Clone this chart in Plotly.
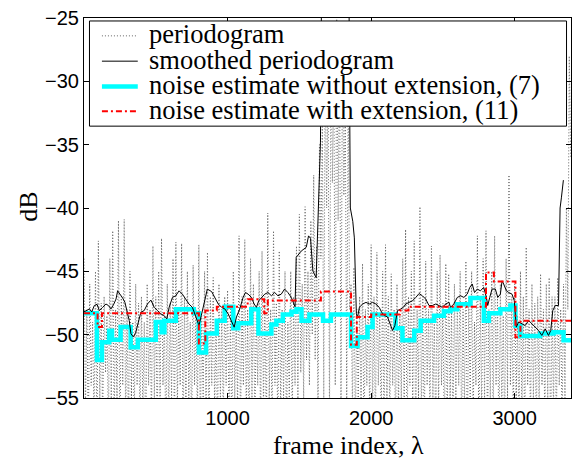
import plotly.graph_objects as go

# ---------------- data ----------------
# periodogram: local maxima at frames 0,20,40,... and minima at 10,30,50,...
pg_peaks = [
    -44.0, -48, -46, -49, -45, -42.6, -47.5, -47, -48.5, -44,
    -41.8, -48, -41.0, -47, -40.9, -48, -45, -49, -46, -47.5,
    -47, -49, -46, -48, -43.0, -47, -45, -42.4, -48.5, -46,
    -47.5, -44, -42.7, -48, -42.8, -47, -45, -49, -44.5, -48,
    -42.9, -48.5, -45, -43.5, -47, -45.5, -49, -46, -48, -47,
    -46.5, -48, -45, -49, -42.2, -47, -42.5, -48, -44, -46,
    -48.5, -45, -43.4, -47, -40.4, -48, -41.8, -47.5, -43.4, -48,
    -45, -49, -45, -47, -43, -40.5, -46, -39.9, -45, -41,
    -37.4, -43, -35, -33, -28, -30, -26, -29, -24, -27,
    -27, -32, -30, -46, -44.7, -48, -47, -44.4, -48, -46,
    -42.9, -47, -43.5, -48.5, -45, -42.9, -47, -45.2, -48, -46,
    -48.5, -44, -41.7, -47, -45, -42.6, -48, -39.9, -47, -44.2,
    -48, -43, -49, -45, -43.7, -47.5, -44.4, -45.2, -48, -46,
    -47.5, -45, -48, -44.2, -47, -45, -49, -42.2, -47, -44,
    -41.8, -48, -45, -42.2, -47, -46, -48.5, -44, -37.4, -47,
    -46, -48.5, -45, -47, -43.1, -48, -46, -47.5, -47, -45.2,
    -48, -46, -45.5, -47, -47, -45.5, -48, -46, -40, -28,
]
pg_valleys = [
    -56, -58, -54, -57, -59, -55, -57, -53, -58, -56,
    -57, -55, -59, -54, -57, -58, -55, -57, -54, -58,
    -56, -59, -54, -57, -55, -58, -56, -54, -59, -57,
    -55, -58, -56, -54, -59, -57, -55, -58, -54, -57,
    -58, -55, -57, -59, -54, -56, -58, -55, -57, -54,
    -57, -59, -55, -56, -58, -54, -57, -59, -55, -57,
    -54, -58, -56, -59, -55, -57, -54, -58, -56, -55,
    -58, -55, -57, -54, -56, -53, -55, -52, -54, -50,
    -52, -56, -44, -55, -40, -57, -38, -54, -41, -56,
    -39, -56, -48, -56, -58, -55, -57, -59, -54, -57,
    -56, -58, -54, -57, -59, -55, -57, -54, -58, -56,
    -55, -57, -59, -54, -56, -58, -55, -57, -59, -54,
    -57, -55, -58, -56, -54, -59, -57, -55, -58, -56,
    -54, -58, -56, -59, -55, -57, -54, -58, -56, -55,
    -58, -55, -57, -54, -59, -56, -58, -55, -54, -57,
    -55, -58, -56, -59, -54, -57, -55, -58, -56, -54,
    -57, -55, -59, -56, -58, -54, -57, -55, -48, -36,
]
pg_half_step = 10
pg_frames, pg_db = [], []
for i, (pk, vl) in enumerate(zip(pg_peaks, pg_valleys)):
    pg_frames += [2 * i * pg_half_step, (2 * i + 1) * pg_half_step]
    pg_db += [pk, vl]

sm_frames = [0, 38, 54, 72, 91, 107, 130, 153, 170, 188, 207, 223, 234, 253, 269, 285, 299, 315, 327, 345,
             361, 378, 396, 419, 442, 466, 489, 512, 535, 558, 577, 593, 616, 639, 662, 685, 708, 731, 755, 778,
             801, 817, 840, 859, 889, 912, 935, 958, 981, 1004, 1027, 1046, 1062, 1085, 1108, 1125, 1143, 1166,
             1185, 1201, 1217, 1236, 1259, 1282, 1305, 1328, 1351, 1374, 1397, 1420, 1444, 1462, 1470, 1478,
             1513, 1548, 1564, 1578, 1594, 1617, 1628, 1647, 1655, 1845, 1855, 1872, 1883, 1890, 1897, 1906,
             1918, 1941, 1964, 1987, 2010, 2033, 2056, 2073, 2091, 2114, 2130, 2149, 2165, 2184, 2207, 2225,
             2241, 2265, 2288, 2311, 2334, 2357, 2380, 2403, 2426, 2450, 2473, 2496, 2519, 2542, 2553, 2576,
             2600, 2623, 2646, 2669, 2687, 2704, 2720, 2739, 2761, 2784, 2803, 2812, 2826, 2842, 2865, 2882,
             2900, 2912, 2923, 2942, 2958, 2981, 2997, 3011, 3027, 3050, 3073, 3097, 3120, 3143, 3166, 3189,
             3212, 3235, 3251, 3265, 3282, 3305, 3316, 3325, 3339]
sm_db = [-48.2, -47.97, -48.2, -47.7, -47.6, -48.1, -47.84, -47.58, -47.7, -47.97, -47.6, -47.19, -46.54, -46.8,
         -47.1, -47.45, -48.1, -48.88, -49.93, -50.19, -49.8, -49.0, -48.23, -48.1, -47.58, -47.27, -47.84, -48.1,
         -48.36, -48.49, -48.75, -47.84, -47.06, -46.93, -46.54, -46.8, -47.19, -47.58, -47.84, -48.62, -49.28,
         -48.49, -47.32, -46.4, -46.6, -47.06, -47.58, -47.84, -47.97, -48.36, -49.0, -49.41, -48.6, -47.97,
         -47.06, -46.67, -46.8, -47.06, -47.58, -47.84, -47.32, -47.06, -46.8, -46.67, -46.93, -46.67, -46.93,
         -46.8, -46.4, -46.67, -47.06, -47.58, -47.8, -43.9, -43.4, -43.1, -42.2, -42.4, -44.97, -45.5, -42.1,
         -34.8, -22, -22, -40.0, -41.05, -42.36, -45.2, -48.36, -48.6, -47.84, -47.58, -47.45, -47.58, -47.45,
         -47.58, -47.84, -48.23, -48.49, -48.6, -49.1, -49.67, -49.28, -48.1, -47.97, -47.84, -47.58, -47.45,
         -47.32, -47.06, -46.75, -46.93, -47.19, -47.7, -47.7, -47.58, -47.7, -47.84, -47.58, -47.45, -47.84,
         -47.58, -47.06, -46.93, -47.06, -46.8, -46.27, -46.0, -46.67, -46.4, -46.54, -46.27, -47.06, -47.7,
         -47.06, -46.4, -46.4, -47.06, -46.8, -45.75, -46.0, -46.54, -46.67, -46.8, -47.32, -49.41, -49.0,
         -49.15, -49.28, -48.88, -49.15, -49.41, -49.67, -50.06, -49.54, -50.06, -49.67, -48.1, -47.7, -47.7,
         -40.0, -39.2, -37.8]

ne7_frames = [0, 90, 125, 175, 195, 255, 325, 375, 500, 540, 560, 640, 765, 800, 850, 925, 980, 1040, 1075,
              1165, 1215, 1305, 1340, 1385, 1445, 1480, 1515, 1570, 1665, 1720, 1860, 1905, 1975, 2010, 2170,
              2218, 2300, 2345, 2438, 2507, 2553, 2600, 2692, 2785, 2820, 2900, 2970, 3005, 3039, 3178, 3270,
              3340, 3392]
ne7_db = [-48.3, -52.0, -50.6, -49.7, -50.4, -49.4, -51.0, -50.4, -49.0, -49.8, -48.9, -48.0, -48.3, -51.4,
          -49.9, -48.9, -47.8, -49.5, -49.1, -48.0, -49.9, -49.2, -48.9, -48.4, -48.2, -48.0, -48.9, -48.4,
          -48.9, -48.4, -50.9, -50.2, -49.4, -48.4, -49.5, -50.45, -49.7, -48.9, -48.5, -48.15, -48.0, -47.6,
          -47.1, -48.9, -48.3, -48.0, -47.7, -49.3, -50.1, -49.9, -49.8, -50.45, -50.45]

ne11_frames = [0, 95, 125, 800, 845, 925, 1140, 1255, 1280, 1650, 1860, 1900, 2000, 2200, 2260, 2800, 2855,
               3005, 3040, 3392]
ne11_db = [-48.3, -49.4, -48.3, -50.7, -48.1, -47.8, -47.2, -48.3, -47.3, -46.6, -50.8, -48.6, -48.4, -48.1,
           -47.8, -45.1, -45.8, -50.2, -48.9, -48.9]

x_ticks = [1000, 2000, 3000]
y_ticks = [-55, -50, -45, -40, -35, -30, -25]
legend_labels = ["periodogram", "smoothed periodogram",
                 "noise estimate without extension, (7)", "noise estimate with extension, (11)"]
x_title = "frame index, λ"
y_title = "dB"

# ---------------- layout geometry ----------------
W, H = 579, 459
ML, MR, MT, MB = 83.5, 6.5, 15, 61
PW = W - ML - MR
PH = H - MT - MB
PB = H - MB


def fx(px):
    return (px - ML) / PW


def fy(py):
    return (PB - py) / PH


SERIF = "Liberation Serif, Times New Roman, serif"
SANS = "Liberation Sans, Arial, sans-serif"

styles = [
    dict(color="#666666", width=1, dash="1px,2px"),
    dict(color="black", width=1, dash="solid"),
    dict(color="#00FFFF", width=4.5, dash="solid"),
    dict(color="red", width=2, dash="6px,3px,2px,3px"),
]

fig = go.Figure()
fig.add_trace(go.Scatter(x=pg_frames, y=pg_db, mode="lines", line=styles[0],
                         name=legend_labels[0], showlegend=False, hoverinfo="skip"))
fig.add_trace(go.Scatter(x=ne7_frames, y=ne7_db, mode="lines", line=dict(**styles[2], shape="hv"),
                         name=legend_labels[2], showlegend=False, hoverinfo="skip"))
fig.add_trace(go.Scatter(x=sm_frames, y=sm_db, mode="lines", line=styles[1],
                         name=legend_labels[1], showlegend=False, hoverinfo="skip"))
fig.add_trace(go.Scatter(x=ne11_frames, y=ne11_db, mode="lines", line=dict(**styles[3], shape="hv"),
                         name=legend_labels[3], showlegend=False, hoverinfo="skip"))

# legend box drawn manually (MATLAB style)
shapes = [dict(type="rect", xref="paper", yref="paper", x0=fx(89), x1=fx(568), y0=fy(124), y1=fy(18),
               fillcolor="white", line=dict(color="black", width=1), layer="above")]
annotations = []
row_y = [33, 58.5, 84, 109]
for lab, st, ry in zip(legend_labels, styles, row_y):
    shapes.append(dict(type="line", xref="paper", yref="paper", x0=fx(101.5), x1=fx(137.5),
                       y0=fy(ry), y1=fy(ry), line=st, layer="above"))
    annotations.append(dict(text=lab, xref="paper", yref="paper", x=fx(147), y=fy(ry - 1.5),
                            xanchor="left", yanchor="middle", showarrow=False,
                            font=dict(family=SERIF, size=26.5, color="black")))

# axis titles
annotations.append(dict(text=x_title, xref="paper", yref="paper", x=fx(349), y=fy(446),
                        xanchor="center", yanchor="middle", showarrow=False,
                        font=dict(family=SERIF, size=26, color="black")))
annotations.append(dict(text=y_title, xref="paper", yref="paper", x=fx(27.5), y=fy(205),
                        xanchor="center", yanchor="middle", showarrow=False, textangle=-90,
                        font=dict(family=SERIF, size=26, color="black")))

fig.update_layout(
    width=W, height=H,
    margin=dict(l=ML, r=MR, t=MT, b=MB),
    paper_bgcolor="white", plot_bgcolor="white",
    showlegend=False, hovermode=False,
    shapes=shapes, annotations=annotations,
    xaxis=dict(range=[0, 3392], tickmode="array", tickvals=x_ticks, ticks="inside", ticklen=5,
               tickcolor="black", showline=True, linecolor="black", linewidth=1, mirror="ticks",
               showgrid=False, zeroline=False, ticklabelstandoff=2,
               tickfont=dict(family=SANS, size=20, color="black")),
    yaxis=dict(range=[-55, -25], tickmode="array", tickvals=y_ticks, ticks="inside", ticklen=5,
               tickcolor="black", showline=True, linecolor="black", linewidth=1, mirror="ticks",
               showgrid=False, zeroline=False,
               tickfont=dict(family=SANS, size=20, color="black")),
)

fig.write_html("out.html", config={"displayModeBar": False},
               post_script="document.body.style.margin='0px';")
